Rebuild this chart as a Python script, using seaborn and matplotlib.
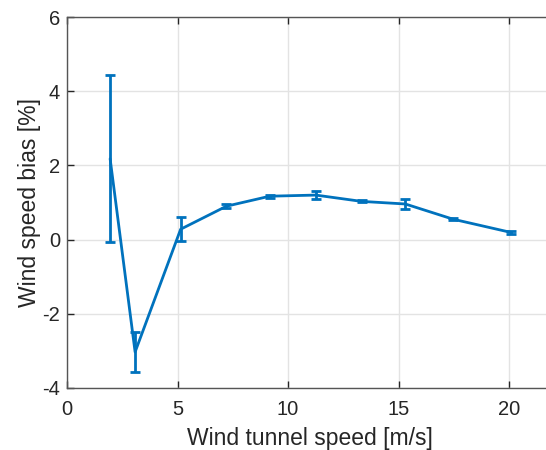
import numpy as np
import pandas as pd
import matplotlib
matplotlib.use('Agg')
import matplotlib.pyplot as plt
import seaborn as sns

# wind tunnel speed [m/s], bias [%] and its error bar half-width
tunnel_speed = [1.95, 3.08, 5.14, 7.21, 9.17, 11.25, 13.32, 15.30, 17.46, 20.10]
bias = [2.18, -3.03, 0.28, 0.90, 1.17, 1.20, 1.03, 0.96, 0.55, 0.19]
bias_err = [2.25, 0.55, 0.32, 0.05, 0.04, 0.11, 0.03, 0.13, 0.03, 0.04]

x_ticks = [0, 5, 10, 15, 20]
y_ticks = [-4, -2, 0, 2, 4, 6]

df = pd.DataFrame({'speed': tunnel_speed, 'bias': bias, 'err': bias_err})

sns.set_theme(style='whitegrid')
plt.rcParams['font.family'] = ['Liberation Sans', 'DejaVu Sans']
plt.rcParams['axes.unicode_minus'] = False

blue = '#0072BD'
fig = plt.figure(figsize=(5.46, 4.5), dpi=100)
ax = fig.add_axes([0.1227, 0.1378, 0.891, 0.8244])

sns.lineplot(data=df, x='speed', y='bias', color=blue, linewidth=2.0, ax=ax)
ax.errorbar(df['speed'], df['bias'], yerr=df['err'], fmt='none',
            ecolor=blue, elinewidth=2.0, capsize=3.5, capthick=2.0)

ax.set_xlim(0, 22)
ax.set_ylim(-4, 6)
ax.set_xticks(x_ticks)
ax.set_yticks(y_ticks)
ax.set_xlabel('Wind tunnel speed [m/s]', fontsize=16.5, color='#262626', labelpad=5.5)
ax.set_ylabel('Wind speed bias [%]', fontsize=16.5, color='#262626', labelpad=1)

ax.grid(True, color='#e3e3e3', linewidth=1.0)
for side in ['left', 'bottom', 'top', 'right']:
    ax.spines[side].set_visible(True)
    ax.spines[side].set_color('#555555')
    ax.spines[side].set_linewidth(1.0)
ax.tick_params(direction='in', length=5, width=1.0, colors='#262626',
               labelsize=14.5, top=True, right=True, bottom=True, left=True)
ax.tick_params(axis='x', pad=9)
ax.tick_params(axis='y', pad=5)

fig.savefig('out.png', dpi=100)
